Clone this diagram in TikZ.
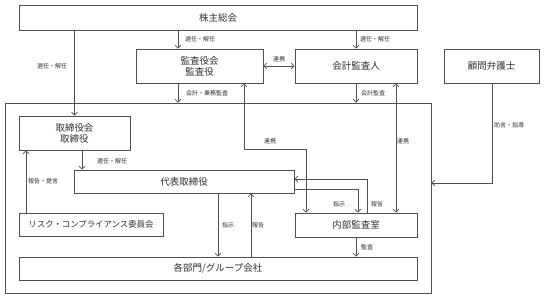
\documentclass[tikz,border=0pt]{standalone}
\usepackage{fontspec}
\setmainfont{Noto Sans CJK JP}
\usetikzlibrary{arrows.meta,calc}
\definecolor{ln}{HTML}{505050}
\definecolor{tx}{HTML}{303030}
\tikzset{
  box/.style={draw=ln, line width=0.8pt, fill=white, inner sep=0pt, font=\fontsize{9.5}{11}\selectfont, text=tx, align=center},
  conn/.style={draw=ln, line width=0.7pt},
  arr/.style={conn, -{Straight Barb[length=3pt,width=6pt]}},
  darr/.style={conn, {Straight Barb[length=3pt,width=6pt]}-{Straight Barb[length=3pt,width=6pt]}},
  lbl/.style={font=\fontsize{6}{7}\selectfont, text=tx, inner sep=0pt},
}
\begin{document}
\begin{tikzpicture}[x=1pt,y=-1pt]
\useasboundingbox (0,0) rectangle (544,299);
% outer frame
\node[box, minimum width=426pt, minimum height=190pt] (frame) at (218,198) {};
% boxes
\node[box, minimum width=398pt, minimum height=25pt] (sh) at (218,17.5) {株主総会};
\node[box, minimum width=127pt, minimum height=34pt] (kansa) at (199.5,66) {監査役会\\監査役};
\node[box, minimum width=122pt, minimum height=34pt] (kaikei) at (356,66) {会計監査人};
\node[box, minimum width=95pt, minimum height=34pt] (komon) at (491.5,66) {顧問弁護士};
\node[box, minimum width=111pt, minimum height=34pt] (tori) at (74.5,133) {取締役会\\取締役};
\node[box, minimum width=220pt, minimum height=23pt] (dai) at (184,181.5) {代表取締役};
\node[box, minimum width=144pt, minimum height=23pt, font=\fontsize{8.4}{10}\selectfont] (risk) at (91,224.5) {リスク・コンプライアンス委員会};
\node[box, minimum width=122pt, minimum height=24pt] (naibu) at (356,225) {内部監査室};
\node[box, minimum width=398pt, minimum height=23pt] (kaku) at (218,268.5) {各部門/グループ会社};
% coordinates
\coordinate (xa) at (178,0);
\coordinate (xb) at (82,0);
\coordinate (xc) at (26,0);
\coordinate (xd) at (218,0);
\coordinate (xe) at (251,0);
\coordinate (xf) at (244,0);
\coordinate (xg) at (306,0);
\coordinate (xh) at (396,0);
\coordinate (xi) at (358,0);
\coordinate (xj) at (367,0);
\coordinate (xk) at (492,0);
\coordinate (ya) at (0,189);
\coordinate (yb) at (0,179);
\coordinate (yc) at (0,149);
\coordinate (yd) at (0,183);
% connectors
\draw[arr] (sh.south -| tori.north) -- (tori.north);
\node[lbl] at (52,66) {選任・解任};
\draw[arr] (sh.south -| xa) -- (kansa.north -| xa);
\node[lbl] at (200,39) {選任・解任};
\draw[arr] (sh.south -| kaikei.north) -- (kaikei.north);
\node[lbl] at (375,39) {選任・解任};
\draw[arr] (kansa.south -| xa) -- (frame.north -| xa);
\node[lbl] at (207,93) {会計・業務監査};
\draw[arr] (kaikei.south) -- (frame.north -| kaikei.south);
\node[lbl] at (373,93) {会計監査};
\draw[darr] (kansa.east) -- (kaikei.west);
\node[lbl] at (279,59) {連携};
\draw[darr] (kansa.south -| xf) -- (xf |- yc) -- (xg |- yc) -- (naibu.north -| xg);
\node[lbl] at (270,141) {連携};
\draw[darr] (kaikei.south -| xh) -- (naibu.north -| xh);
\node[lbl, anchor=west] at (397,141) {連携};
\draw[arr] (komon.south -| xk) -- (xk |- yd) -- (frame.east |- yd);
\node[lbl] at (509,125) {助言・指導};
\draw[arr] (tori.south -| xb) -- (dai.north -| xb);
\node[lbl] at (112,161) {選任・解任};
\draw[arr] (risk.north -| xc) -- (tori.south -| xc);
\node[lbl] at (43,181) {報告・提言};
\draw[arr] (dai.south -| xd) -- (kaku.north -| xd);
\node[lbl] at (228,225) {指示};
\draw[arr] (kaku.north -| xe) -- (dai.south -| xe);
\node[lbl] at (258,225) {報告};
\draw[arr] (dai.east |- ya) -- (xi |- ya) -- (naibu.north -| xi);
\node[lbl] at (339,204) {指示};
\draw[arr] (naibu.north -| xj) -- (xj |- yb) -- (dai.east |- yb);
\node[lbl] at (377,204) {報告};
\draw[arr] (naibu.south) -- (kaku.north -| naibu.south);
\node[lbl] at (367,247) {監査};
\end{tikzpicture}
\end{document}
